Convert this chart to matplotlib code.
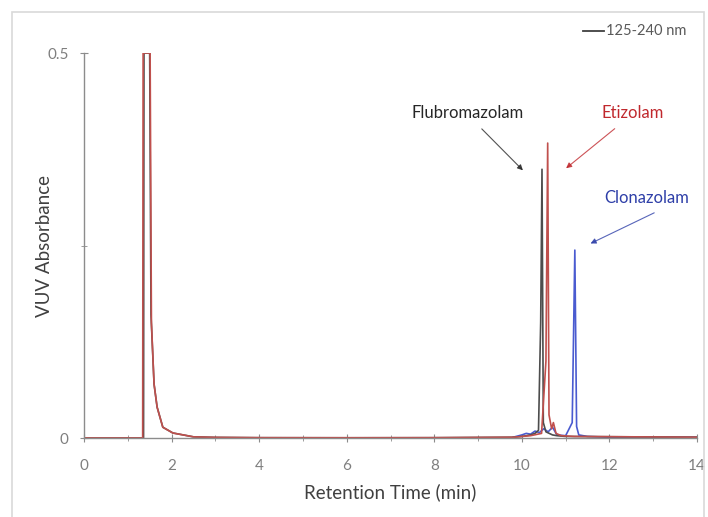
import matplotlib
matplotlib.use('Agg')
import matplotlib.pyplot as plt
from matplotlib.patches import Rectangle
from matplotlib.ticker import MultipleLocator, FixedLocator

# chromatogram traces: (retention time [min], absorbance)
black_t = [0, 1.36, 1.37, 1.50, 1.53, 1.60, 1.67, 1.80, 2.03, 2.5, 3.0, 4.0, 6.0, 8.0, 9.8, 10.0,
           10.2, 10.3, 10.38, 10.43, 10.46, 10.49, 10.55, 10.7, 10.8, 11.0, 14.0]
black_v = [0, 0, 0.5, 0.5, 0.16, 0.07, 0.04, 0.014, 0.0065, 0.0015, 0.0008, 0.0004, 0.0003, 0.0004, 0.001, 0.002,
           0.004, 0.006, 0.01, 0.15, 0.349, 0.02, 0.008, 0.004, 0.003, 0.002, 0.001]

red_t = [0, 1.34, 1.35, 1.51, 1.54, 1.60, 1.67, 1.80, 2.03, 2.5, 3.0, 4.0, 6.0, 8.0, 9.8, 10.2,
         10.45, 10.55, 10.59, 10.62, 10.68, 10.72, 10.78, 10.9, 11.2, 14.0]
red_v = [0, 0, 0.5, 0.5, 0.15, 0.07, 0.04, 0.014, 0.0065, 0.0015, 0.0008, 0.0004, 0.0003, 0.0004, 0.001, 0.003,
         0.006, 0.1, 0.383, 0.03, 0.012, 0.02, 0.006, 0.003, 0.002, 0.001]

blue_t = [9.8, 10.0, 10.1, 10.2, 10.3, 10.4, 10.5, 10.6, 10.7, 10.8, 11.0, 11.15, 11.21, 11.25, 11.3, 11.5, 12.0, 14.0]
blue_v = [0.001, 0.004, 0.006, 0.005, 0.009, 0.007, 0.012, 0.008, 0.014, 0.004, 0.003, 0.02, 0.244, 0.015, 0.004, 0.002, 0.001, 0.001]

legend_label = "125-240 nm"
x_ticks = [0, 2, 4, 6, 8, 10, 12, 14]
y_ticks = [0, 0.5]

# peak labels: name, text position, arrow head position, colour
labels = ["Flubromazolam", "Etizolam", "Clonazolam"]
label_pos = [(8.77, 0.422), (12.53, 0.422), (12.85, 0.312)]
arrow_tail = [(9.04, 0.404), (12.17, 0.404), (13.08, 0.294)]
arrow_head = [(10.07, 0.345), (10.96, 0.348), (11.51, 0.251)]
label_colors = ["#262626", "#c0282d", "#2e3fa8"]

plt.rcParams['font.family'] = ['Lato', 'DejaVu Sans']

fig = plt.figure(figsize=(7.08, 5.17), dpi=100)
ax = fig.add_axes([84/708, 1-438/517, (697-84)/708, (438-53)/517])

# light frame around the chart area
fig.patches.append(Rectangle((12/708, -0.1), (704-12)/708, 1.1-12/517, transform=fig.transFigure,
                             fill=False, edgecolor="#d9d9d9", linewidth=1.2))

ax.plot(blue_t, blue_v, color="#4a5bd0", lw=1.2)
ax.plot(black_t, black_v, color="#4d4d4d", lw=1.2)
ax.plot(red_t, red_v, color="#c0504d", lw=1.2)

ax.set_xlim(0, 14)
ax.set_ylim(0, 0.5)

for s in ['top', 'right']:
    ax.spines[s].set_visible(False)
for s in ['left', 'bottom']:
    ax.spines[s].set_color("#8c8c8c")
    ax.spines[s].set_linewidth(1.0)

ax.xaxis.set_major_locator(FixedLocator(x_ticks))
ax.xaxis.set_minor_locator(MultipleLocator(1))
ax.yaxis.set_major_locator(FixedLocator(y_ticks))
ax.yaxis.set_minor_locator(FixedLocator([0.25]))
ax.set_yticklabels(["0", "0.5"])
ax.tick_params(which='both', direction='inout', color="#8c8c8c", labelcolor="#7f7f7f", labelsize=11)
ax.tick_params(which='major', length=6)
ax.tick_params(which='minor', length=5)
ax.tick_params(axis='x', pad=12)
ax.tick_params(axis='y', pad=8)

ax.set_xlabel("Retention Time (min)", fontsize=13.5, color="#404040")
ax.set_ylabel("VUV Absorbance", fontsize=13.5, color="#404040")
ax.xaxis.set_label_coords(0.5, -(492-438)/385, transform=ax.transAxes)
ax.yaxis.set_label_coords(-(84-45)/613, 0.5, transform=ax.transAxes)
ax.xaxis.label.set_va('center')
ax.yaxis.label.set_va('center')

for name, pos, tail, head, c in zip(labels, label_pos, arrow_tail, arrow_head, label_colors):
    ax.text(pos[0], pos[1], name, color=c, fontsize=12, ha='center', va='center')
    ax.annotate("", xy=head, xytext=tail,
                arrowprops=dict(arrowstyle='-|>', color=c, lw=0.8, mutation_scale=8, alpha=0.8))

# legend entry in the top right corner
fig.lines.append(plt.Line2D([583/708, 604/708], [1-31/517, 1-31/517], transform=fig.transFigure,
                            color="#404040", lw=1.3))
fig.text(606/708, 1-31/517, legend_label, fontsize=10.5, color="#595959", va='center', ha='left')

fig.savefig("out.png", dpi=100)
